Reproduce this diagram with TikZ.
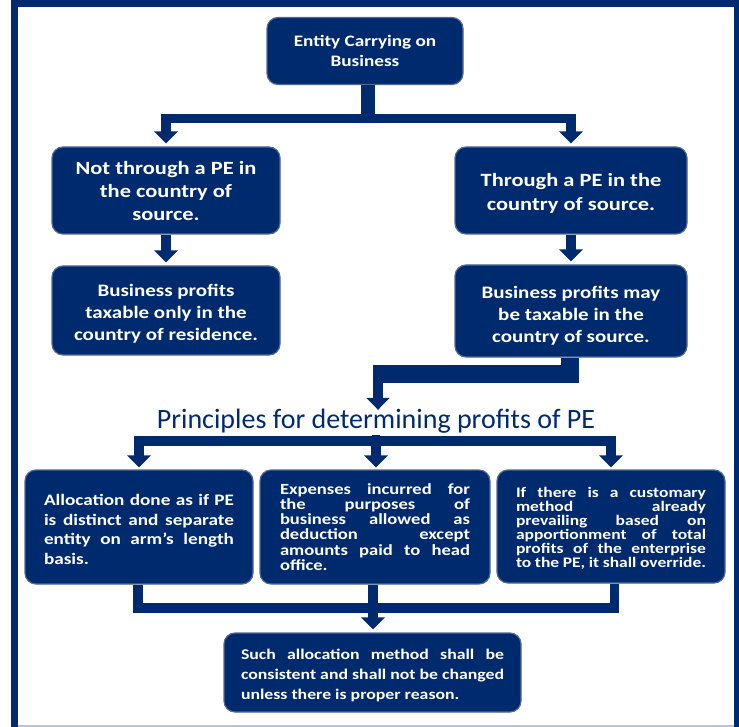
\documentclass[tikz,border=0pt]{standalone}
\usepackage{fontspec}
\setmainfont{Carlito}
\newfontfamily\bxfont[FakeStretch=1.2]{Carlito}
\usetikzlibrary{arrows.meta}
\definecolor{navy}{RGB}{0,42,110}
\definecolor{edge}{RGB}{80,105,150}
\definecolor{lightline}{RGB}{185,195,210}
\tikzset{
  box/.style={draw=edge, line width=1.2pt, fill=navy, rounded corners=11pt, text=white,
    inner sep=0pt, align=center},
  link/.style={draw=navy, line width=9.5pt},
  arr/.style={draw=navy, line width=9.5pt, -{Triangle[width=23pt,length=12pt]}, shorten >=3pt},
}
\newcommand{\lift}[1]{\rule{0pt}{#1}}
\begin{document}
\begin{tikzpicture}[x=1pt,y=-1pt]
\useasboundingbox (0,0) rectangle (739,727);
% frame
\fill[navy] (11,0) rectangle (739,7.5);
\fill[navy] (11,0) rectangle (17.5,727);
\fill[navy] (734,0) rectangle (739,727);
\fill[lightline] (17.5,725) rectangle (734,727);

% nodes
\node[box, minimum width=196pt, minimum height=67pt, font=\bxfont\bfseries\fontsize{16}{20}\selectfont]
  (top) at (365,51) {Entity Carrying on\\Business};
\node[box, minimum width=228pt, minimum height=87pt, font=\bxfont\bfseries\fontsize{18.7}{23}\selectfont]
  (l1) at (166,190.5) {\lift{15pt}Not through a PE in\\the country of\\source.};
\node[box, minimum width=232pt, minimum height=87pt, font=\bxfont\bfseries\fontsize{18.7}{24}\selectfont]
  (r1) at (571,190.5) {\lift{18.5pt}Through a PE in the\\country of source.};
\node[box, minimum width=228pt, minimum height=89pt, font=\bxfont\bfseries\fontsize{17.5}{22}\selectfont]
  (l2) at (166,310.5) {\lift{18.5pt}Business profits\\taxable only in the\\country of residence.};
\node[box, minimum width=232pt, minimum height=92pt, font=\bxfont\bfseries\fontsize{17.5}{22}\selectfont]
  (r2) at (571,311) {\lift{22.5pt}Business profits may\\be taxable in the\\country of source.};
\node[font=\fontsize{28}{32}\selectfont, text=navy, inner sep=0pt, text height=18pt, text depth=7pt,
  anchor=base] (title) at (376,428) {Principles for determining profits of PE};
\node[box, minimum width=228pt, minimum height=114pt, align=justify, text width=190pt,
  font=\bxfont\bfseries\fontsize{16}{19.7}\selectfont] (a) at (139,527)
  {\hspace*{0pt}Allocation done as if PE\linebreak is distinct and separate\linebreak entity on arm’s length\linebreak basis.\par\vspace*{-5pt}};
\node[box, minimum width=230pt, minimum height=114pt, align=justify, text width=190pt,
  font=\bxfont\bfseries\fontsize{15.5}{15.2}\selectfont] (b) at (375,527)
  {\hspace*{0pt}Expenses incurred for\linebreak the purposes of\linebreak business allowed as\linebreak deduction except\linebreak amounts paid to head\linebreak office.\par\vspace*{0pt}};
\node[box, minimum width=228pt, minimum height=113pt, align=justify, text width=190pt,
  font=\bxfont\bfseries\fontsize{14.6}{14}\selectfont] (c) at (611,526.5)
  {\hspace*{0pt}If there is a customary\linebreak method already\linebreak prevailing based on\linebreak apportionment of total\linebreak profits of the enterprise\linebreak to the PE, it shall override.\par\vspace*{-4pt}};
\node[box, minimum width=297pt, minimum height=79pt, align=justify, text width=263pt,
  font=\bxfont\bfseries\fontsize{14.8}{20}\selectfont] (d) at (372.5,672.5)
  {\hspace*{0pt}Such allocation method shall be\linebreak consistent and shall not be changed\linebreak unless there is proper reason.\par\vspace*{-6pt}};

% connectors
\coordinate (j1) at (368,118.5);
\draw[link, line width=14pt] (top.south -| j1) -- ([yshift=-3pt]j1);
\draw[arr] ([xshift=4pt]j1) -| (l1.north);
\draw[arr] ([xshift=-4pt]j1) -| (r1.north);
\draw[arr] (l1.south) -- (l2.north);
\draw[arr] (r1.south) -- (r2.north);
\coordinate (j2) at (378,374);
\draw[link, line width=18pt] (r2.south -| 570,0) -- (570,374) -- ([xshift=-5pt]j2);
\draw[arr, shorten >=0pt] ([yshift=4pt]j2) -- (title.north -| j2);
\coordinate (j3) at (376,441);
\draw[link, line width=8.5pt] (title.south -| j3) -- (j3);
\draw[arr, shorten >=2pt] ([xshift=4pt]j3) -| (a.north);
\draw[arr, shorten >=2pt] ([yshift=4pt]j3) -- (j3 |- b.north);
\draw[arr, shorten >=2pt] ([xshift=-4pt]j3) -| (c.north);
\coordinate (j4) at (373,608);
\draw[link] (a.south -| 138,0) |- ([xshift=5pt]j4);
\draw[link] (c.south -| 614.5,0) |- ([xshift=-5pt]j4);
\draw[link] (b.south -| j4) -- (j4);
\draw[arr] (j4) -- (j4 |- d.north);
\end{tikzpicture}
\end{document}
